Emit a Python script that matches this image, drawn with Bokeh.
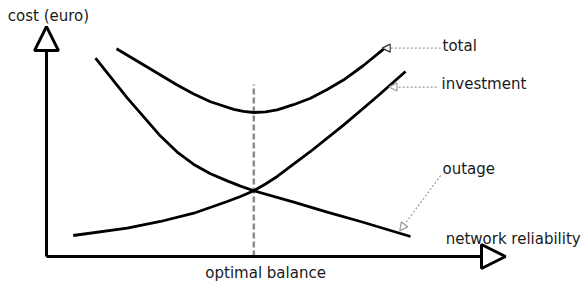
from bokeh.plotting import figure
from bokeh.models import Range1d, Arrow, NormalHead, Label
from bokeh.embed import file_html
from bokeh.resources import INLINE

# ---- data (reliability 0..100, cost 0..100) ----
outage_x = [10.89, 17.93, 25.33, 29.04, 32.73, 36.44, 40.16, 43.11, 46.07,
            54.96, 62.38, 69.78, 80.89]
outage_y = [88.13, 70.53, 53.51, 46.44, 40.93, 36.8, 33.6, 31.29, 29.2,
            24.13, 19.69, 15.56, 8.89]

invest_x = [5.93, 17.93, 25.33, 32.73, 40.16, 43.11, 46.07, 48.67, 51.27,
            58.67, 66.07, 73.49, 79.78]
invest_y = [9.33, 12.58, 15.56, 19.24, 24.44, 26.67, 29.2, 32.22, 35.56,
            46.67, 58.53, 71.11, 82.22]

total_x = [15.56, 21.62, 29.04, 32.73, 36.44, 41.62, 43.78, 46.07, 48.67,
           51.27, 54.89, 58.67, 62.38, 66.07, 70.44, 74.96]
total_y = [92.31, 85.11, 76.22, 72.22, 68.76, 65.42, 64.49, 64.0, 64.31,
           65.2, 67.47, 70.36, 74.22, 78.53, 84.89, 92.31]

optimum_x = 46.07
optimum_top = 76.4
axis_x_end = 102.0
axis_y_end = 102.2

label_texts = ["cost (euro)", "total", "investment", "outage",
               "network reliability", "optimal balance"]

FONT = "DejaVu Sans"

p = figure(width=585, height=286, output_backend="svg", toolbar_location=None,
           x_range=Range1d(-10.222, 119.778), y_range=Range1d(-13.333, 113.778),
           min_border=0, background_fill_color="white")
p.axis.visible = False
p.grid.visible = False
p.outline_line_color = None

# optimal balance dashed line
p.line([optimum_x, optimum_x], [0, optimum_top], line_color="#8a8a8a",
       line_width=2.5, line_dash="6 3")

# curves
for xs, ys in [(outage_x, outage_y), (invest_x, invest_y), (total_x, total_y)]:
    p.line(xs, ys, line_color="black", line_width=2.8, line_join="round",
           line_cap="butt")

# axes with open arrow heads
for xe, ye in [(axis_x_end, 0), (0, axis_y_end)]:
    p.add_layout(Arrow(end=NormalHead(size=24, fill_color="white",
                                      line_color="black", line_width=3),
                       x_start=0, y_start=0, x_end=xe, y_end=ye,
                       line_color="black", line_width=3))

# leader lines
leaders = [
    ((87.6, 92.6), (74.6, 92.6), "#333333"),
    ((86.7, 75.3), (76.1, 75.3), "#9a9a9a"),
    ((87.6, 36.0), (78.5, 11.4), "#9a9a9a"),
]
for (xs, ys), (xe, ye), hc in leaders:
    p.add_layout(Arrow(end=NormalHead(size=8, fill_color="white",
                                      line_color=hc, line_width=1.2),
                       x_start=xs, y_start=ys, x_end=xe, y_end=ye,
                       line_color="#9a9a9a", line_width=1.2, line_dash="2 2"))

# labels
label_pos = [(-8.6, 106.7), (88.0, 93.4), (87.8, 76.5), (88.0, 38.7),
             (88.7, 7.6), (35.3, -7.5)]
for t, (lx, ly) in zip(label_texts, label_pos):
    p.add_layout(Label(x=lx, y=ly, text=t, text_font=FONT,
                       text_font_size="15px", text_color="#1a1a1a",
                       text_align="left", text_baseline="alphabetic"))

open("out.html", "w").write(file_html(p, INLINE))
